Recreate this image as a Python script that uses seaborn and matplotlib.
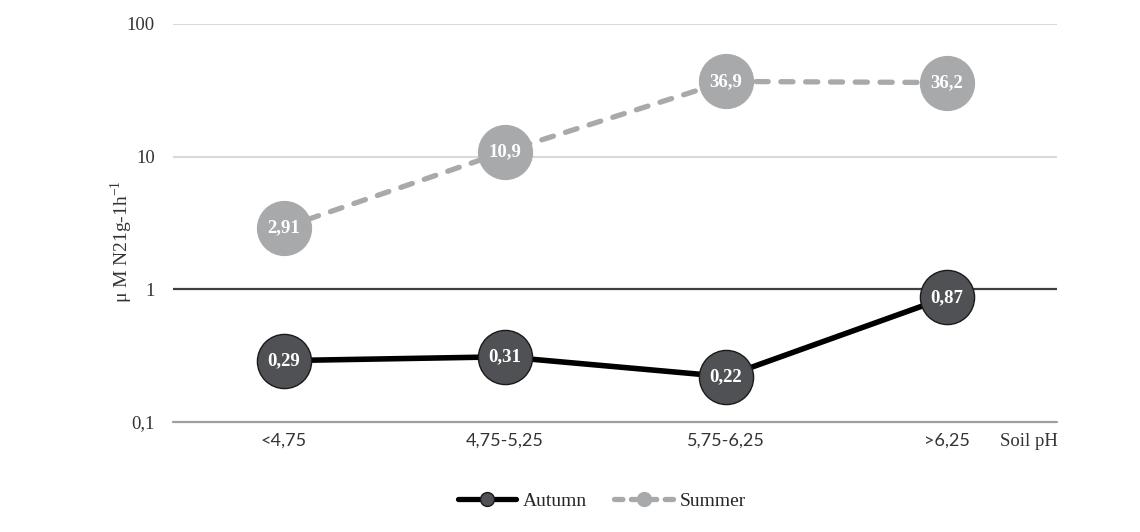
import matplotlib
matplotlib.use("Agg")
import matplotlib.pyplot as plt
import seaborn as sns
import pandas as pd
from matplotlib.lines import Line2D

# Data
ph_classes = ["<4,75", "4,75-5,25", "5,75-6,25", ">6,25"]
autumn = [0.29, 0.31, 0.22, 0.87]
summer = [2.91, 10.9, 36.9, 36.2]
autumn_labels = ["0,29", "0,31", "0,22", "0,87"]
summer_labels = ["2,91", "10,9", "36,9", "36,2"]
y_ticks = [0.1, 1, 10, 100]
y_ticklabels = ["0,1", "1", "10", "100"]

sns.set_theme(style="white")
plt.rcParams["font.family"] = ["Liberation Serif", "DejaVu Serif"]

df = pd.DataFrame({
    "pos": list(range(len(ph_classes))) * 2,
    "value": autumn + summer,
    "season": ["Autumn"] * len(autumn) + ["Summer"] * len(summer),
})

fig = plt.figure(figsize=(11.4, 5.32), dpi=100)
ax = fig.add_axes([0.1518, 0.2068, 0.7754, 0.7481])

ax.set_yscale("log")
ax.set_ylim(0.1, 100)
ax.set_xlim(-0.5, len(ph_classes) - 0.5)

# Horizontal reference lines
ax.axhline(100, color="#d9d9d9", lw=1.5, zorder=0)
ax.axhline(10, color="#d9d9d9", lw=1.5, zorder=0)
ax.axhline(1, color="#3f3f3f", lw=1.6, zorder=0)
ax.axhline(0.1, color="#9e9e9e", lw=1.6, zorder=0, clip_on=False)

aut_color = "#4f5154"
sum_color = "#a8a9aa"

sns.lineplot(data=df[df.season == "Summer"], x="pos", y="value", ax=ax,
             color=sum_color, lw=3.8, marker="o", markersize=39,
             markerfacecolor=sum_color, markeredgecolor=sum_color,
             dashes=False, legend=False, zorder=2)
ax.lines[-1].set_dashes([2.3, 2.4])
ax.lines[-1].set_dash_capstyle("round")

sns.lineplot(data=df[df.season == "Autumn"], x="pos", y="value", ax=ax,
             color="black", lw=4.0, marker="o", markersize=39,
             markerfacecolor=aut_color, markeredgecolor="#1a1a1a",
             markeredgewidth=1.0, legend=False, zorder=3)

for i, (v, t) in enumerate(zip(summer, summer_labels)):
    ax.text(i, v, t, ha="center", va="center", color="white",
            fontsize=13.5, fontweight="bold", zorder=5)
for i, (v, t) in enumerate(zip(autumn, autumn_labels)):
    ax.text(i, v, t, ha="center", va="center", color="white",
            fontsize=13.5, fontweight="bold", zorder=5)

for s in ax.spines.values():
    s.set_visible(False)

ax.set_yticks(y_ticks)
ax.set_yticklabels(y_ticklabels, fontsize=13.5, color="#333333")
ax.yaxis.set_minor_locator(matplotlib.ticker.NullLocator())
ax.tick_params(axis="y", length=0, pad=13)

ax.set_xticks(range(len(ph_classes)))
ax.set_xticklabels(ph_classes, fontsize=13, color="#333333",
                   family=["Lato", "DejaVu Sans"])
ax.tick_params(axis="x", length=0, pad=8)
ax.set_xlabel("")
ax.set_ylabel("")

fig.text(0.1065, 0.545, r"μ M N21g-1h$^{\mathregular{-1}}$", rotation=90,
         ha="center", va="center", fontsize=14, color="#333333")
fig.text(0.877, 0.17, "Soil pH", ha="left", va="center", fontsize=13.5,
         color="#333333")

handles = [
    Line2D([0], [0], color="black", lw=3.8, marker="o", markersize=10,
           markerfacecolor=aut_color, markeredgecolor="#1a1a1a"),
    Line2D([0], [0], color=sum_color, lw=3.8, marker="o", markersize=10,
           markerfacecolor=sum_color, markeredgecolor=sum_color,
           dashes=[1.6, 1.6], dash_capstyle="round"),
]
fig.legend(handles, ["Autumn", "Summer"], loc="center",
           bbox_to_anchor=(0.528, 0.058), ncol=2, frameon=False,
           fontsize=14, handlelength=3.0, handletextpad=0.35,
           columnspacing=1.4)

fig.savefig("out.png", dpi=100, facecolor="white")
